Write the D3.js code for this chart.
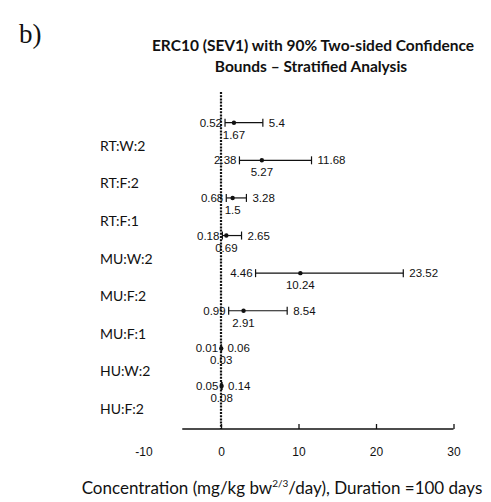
<!DOCTYPE html>
<html>
<head>
<meta charset="utf-8">
<script src="https://cdn.jsdelivr.net/npm/d3@7"></script>
<style>
  html, body { margin: 0; padding: 0; background: #fff; }
  svg { display: block; }
  .val { font-family: "Liberation Sans", Arial, sans-serif; font-size: 11.5px; fill: #111; }
  .cat { font-family: Lato, "Open Sans", sans-serif; font-size: 14px; fill: #111; }
</style>
</head>
<body>
<div id="chart"></div>
<script>
// strata, ordered top to bottom
const categories = ['RT:W:2', 'RT:F:2', 'RT:F:1', 'MU:W:2', 'MU:F:2', 'MU:F:1', 'HU:W:2', 'HU:F:2'];
// lower 90% bound, central estimate, upper 90% bound
const lower = [0.52, 2.38, 0.68, 0.18, 4.46, 0.99, 0.01, 0.05];
const central = [1.67, 5.27, 1.5, 0.69, 10.24, 2.91, 0.03, 0.08];
const upper = [5.4, 11.68, 3.28, 2.65, 23.52, 8.54, 0.06, 0.14];
const xTicks = [-10, 0, 10, 20, 30];

const w = 491;
const h = 502;

const rows = categories.map(function (c, i) {
  return { cat: c, lo: lower[i], mid: central[i], hi: upper[i] };
});

const svg = d3.select('#chart').
append('svg').
attr('width', w).
attr('height', h);

const x = d3.scaleLinear().
domain([-10, 30]).
range([143.5, 453.5]);

const y = d3.scalePoint().
domain(categories).
range([122.7, 386]);

// panel letter
svg.append('text').
attr('x', 19).
attr('y', 43).
style('font-family', '"Liberation Serif", "DejaVu Serif", serif').
style('font-size', '27px').
style('fill', '#111').
text('b)');

// title
const title = svg.append('text').
attr('text-anchor', 'middle').
style('font-family', 'Lato, "Open Sans", sans-serif').
style('font-weight', 'bold').
style('font-size', '15.5px').
style('fill', '#111');
title.append('tspan').attr('x', 313).attr('y', 51).text('ERC10 (SEV1) with 90% Two-sided Confidence');
title.append('tspan').attr('x', 311).attr('y', 72).text('Bounds \u2013 Stratified Analysis');

// x axis
const xAxis = d3.axisBottom(x).
tickValues(xTicks).
tickSizeInner(-5).
tickSizeOuter(0).
tickPadding(18).
tickFormat(d => String(d));

const axisG = svg.append('g').
attr('transform', 'translate(0,429)').
call(xAxis);

axisG.select('.domain').remove();
axisG.selectAll('.tick').filter(d => d < x.invert(183)).select('line').remove();
axisG.selectAll('.tick line').attr('stroke', '#111').attr('stroke-width', 1.3);
axisG.selectAll('.tick text').
style('font-family', '"Liberation Sans", Arial, sans-serif').
style('font-size', '12px').
style('fill', '#111');

axisG.append('line').
attr('x1', x(-5)).
attr('x2', x(30)).
attr('stroke', '#111').
attr('stroke-width', 1.5);

// reference line at zero
svg.append('line').
attr('x1', x(0)).
attr('x2', x(0)).
attr('y1', 92).
attr('y2', 429).
attr('stroke', '#111').
attr('stroke-width', 2.2).
attr('stroke-dasharray', '2,1.2');

// category labels sit just below their interval
svg.append('g').
selectAll('text').
data(rows).
enter().
append('text').
attr('class', 'cat').
attr('x', 100).
attr('y', d => y(d.cat) + 28).
text(d => d.cat);

const bars = svg.append('g').
selectAll('g').
data(rows).
enter().
append('g').
attr('transform', d => 'translate(0,' + y(d.cat) + ')');

bars.append('line').
attr('x1', d => x(d.lo)).
attr('x2', d => x(d.hi)).
attr('stroke', '#111').
attr('stroke-width', 1.2);

bars.append('line').
attr('x1', d => x(d.lo)).
attr('x2', d => x(d.lo)).
attr('y1', -4).
attr('y2', 4).
attr('stroke', '#111').
attr('stroke-width', 1.2);

bars.append('line').
attr('x1', d => x(d.hi)).
attr('x2', d => x(d.hi)).
attr('y1', -4).
attr('y2', 4).
attr('stroke', '#111').
attr('stroke-width', 1.2);

bars.append('circle').
attr('cx', d => x(d.mid)).
attr('r', 2.2).
attr('fill', '#111');

bars.append('text').
attr('class', 'val').
attr('x', d => x(d.lo) - 3).
attr('y', 4).
attr('text-anchor', 'end').
text(d => String(d.lo));

bars.append('text').
attr('class', 'val').
attr('x', d => x(d.hi) + 6).
attr('y', 4).
text(d => String(d.hi));

bars.append('text').
attr('class', 'val').
attr('x', d => x(d.mid)).
attr('y', 16).
attr('text-anchor', 'middle').
text(d => String(d.mid));

// axis title with superscript exponent
const xt = svg.append('text').
attr('x', 282).
attr('y', 494).
attr('text-anchor', 'middle').
style('font-family', 'Lato, "Open Sans", sans-serif').
style('font-size', '17px').
style('fill', '#111');
xt.append('tspan').text('Concentration (mg/kg bw');
xt.append('tspan').attr('dy', -7).style('font-size', '10px').text('2/3');
xt.append('tspan').attr('dy', 7).text('/day), Duration =100 days');
</script>
</body>
</html>
